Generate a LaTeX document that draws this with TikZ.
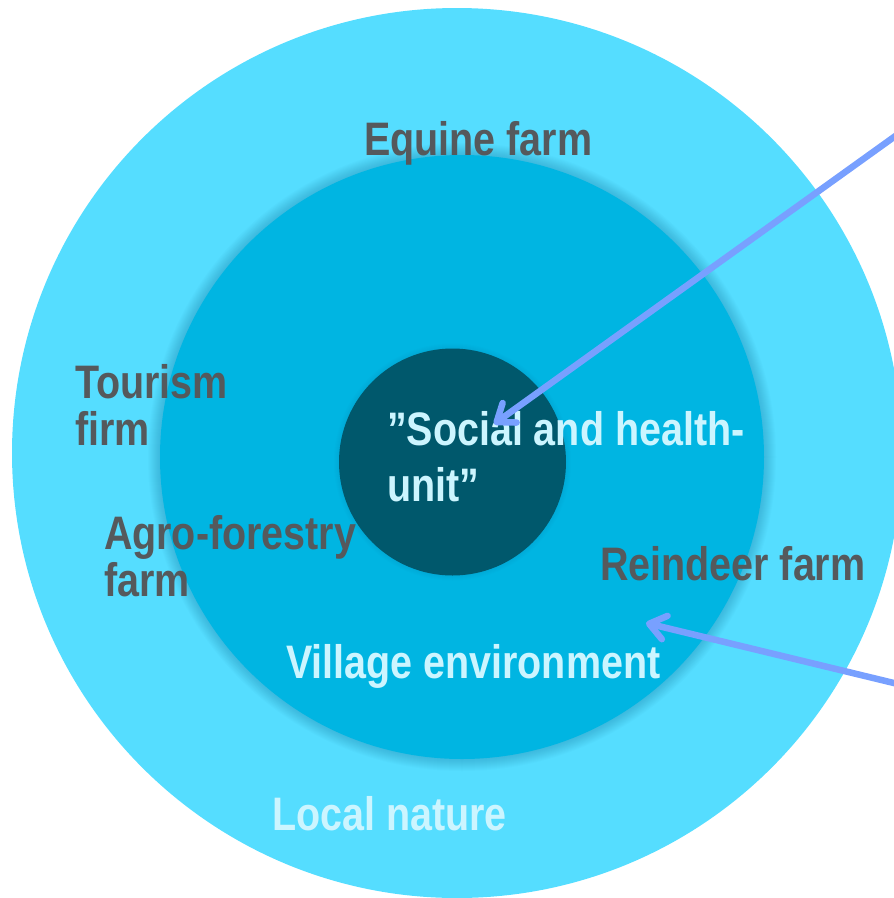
\documentclass[tikz,border=0pt]{standalone}
\usepackage{fontspec}
\usetikzlibrary{arrows.meta}
\newfontfamily\lblfont[FakeStretch=0.84]{Liberation Sans Bold}
\definecolor{outerblue}{RGB}{85,221,255}
\definecolor{midblue}{RGB}{0,181,226}
\definecolor{innerblue}{RGB}{0,88,108}
\definecolor{darktext}{RGB}{85,89,92}
\definecolor{lighttext}{RGB}{204,245,255}
\definecolor{arrowblue}{RGB}{120,160,255}
\definecolor{shadowblue}{RGB}{0,90,130}
\tikzset{
  lbl/.style={inner sep=0pt, outer sep=0pt, anchor=base west, align=left,
    font=\lblfont\fontsize{47}{47.7}\selectfont},
  darklbl/.style={lbl, text=darktext},
  lightlbl/.style={lbl, text=lighttext},
  pointer/.style={draw=arrowblue, line width=6.5pt, line cap=round,
    -{Straight Barb[length=16pt, width=24pt, line cap=round, line join=round]}}
}
\begin{document}
\begin{tikzpicture}[x=1pt, y=-1pt]
\path[use as bounding box] (0,0) rectangle (894,898);
\clip (0,0) rectangle (894,898);
% outer circle
\fill[outerblue] (457,453) circle (445);
% soft shadow of middle circle
\foreach \i in {1,...,12}{
  \fill[shadowblue, opacity=0.018] (462,457) circle ({302+\i});
}
\fill[midblue] (462,457) circle (302);
% inner circle glow
\foreach \i in {1,...,5}{
  \fill[shadowblue, opacity=0.015] (452.5,462) circle ({113.5+\i});
}
\fill[innerblue] (452.5,462) circle (113.5);
% labels (multi-line labels are anchored at the baseline of their last line)
\node[darklbl] (equine) at (364,155) {Equine farm};
\node[darklbl] (tourism) at (75,445.7) {Tourism\\firm};
\node[darklbl] (agro) at (104,596.7) {Agro-forestry\\farm};
\node[darklbl] (reindeer) at (600,580) {Reindeer farm};
\node[lightlbl, font=\lblfont\fontsize{47}{56.7}\selectfont] (social) at (387,501.7) {”Social and health-\\unit”};
\node[lightlbl] (village) at (286,678) {Village environment};
\node[lightlbl] (localnature) at (272,830) {Local nature};
% arrows
\coordinate (a1start) at (900,132.7);
\coordinate (a1tip) at (494,424);
\coordinate (a2start) at (900,684.5);
\coordinate (a2tip) at (646,623);
\draw[pointer] (a1start) -- (a1tip);
\draw[pointer] (a2start) -- (a2tip);
\end{tikzpicture}
\end{document}
